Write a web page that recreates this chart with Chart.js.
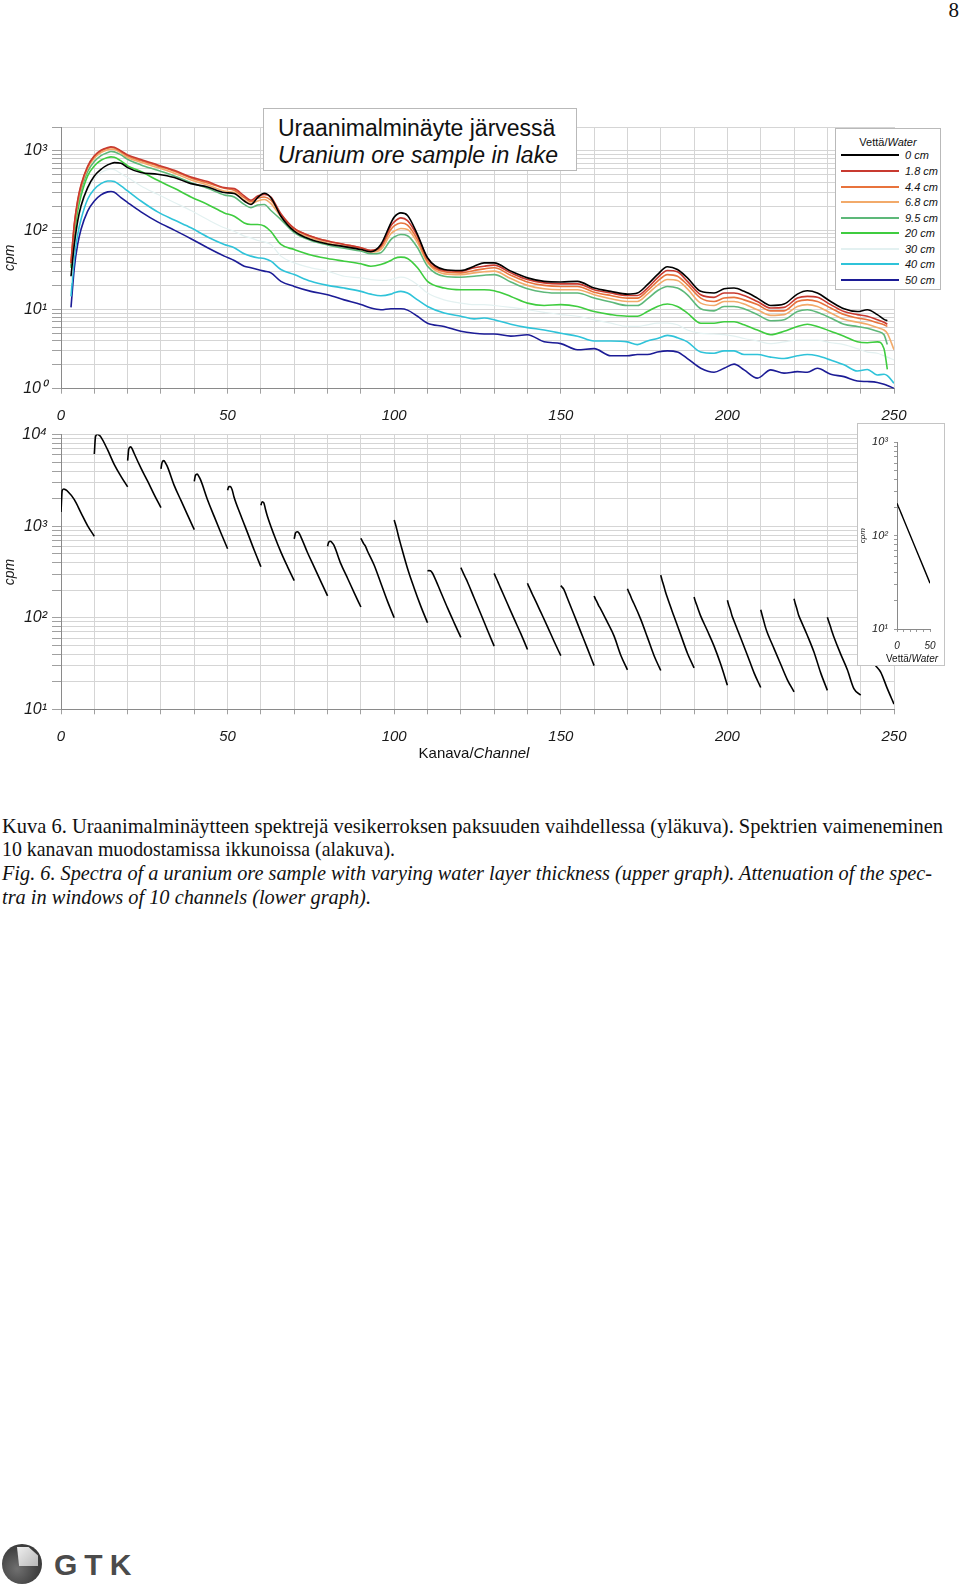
<!DOCTYPE html>
<html lang="fi">
<head>
<meta charset="utf-8">
<title>Uraanimalminäyte järvessä</title>
<script src="https://cdn.jsdelivr.net/npm/chart.js@4.4.1/dist/chart.umd.min.js"></script>
<style>
  html, body { margin:0; padding:0; background:#fff; }
  body { position:relative; width:960px; height:1586px; overflow:hidden; font-family:"Liberation Sans", Arial, sans-serif; color:#111; }
  canvas { position:absolute; display:block; }
  #upperChart { left:0; top:0; }
  #lowerChart { left:0; top:420px; }
  .pagenum { position:absolute; right:1px; top:0px; font-family:"Liberation Serif","Times New Roman",serif; font-size:21px; line-height:21px; color:#111; }
  .titlebox { position:absolute; left:263px; top:108px; width:314px; height:63px; box-sizing:border-box; border:1px solid #b9b9b9; background:#fff; }
  .titlebox div { position:absolute; left:14px; white-space:nowrap; font-size:23px; line-height:23px; color:#111; }
  .titlebox .t1 { top:8px; }
  .titlebox .t2 { top:35px; font-style:italic; }
  .legend { position:absolute; left:835px; top:128px; width:106px; height:162px; box-sizing:border-box; border:1px solid #b9b9b9; background:#fff; }
  .legend .lt { position:absolute; left:0; width:100%; top:7px; text-align:center; font-size:11px; line-height:13px; }
  .legend .row { position:absolute; left:0; width:100%; height:12px; }
  .legend .sw { position:absolute; left:5px; width:58px; height:2px; top:5px; }
  .legend .lab { position:absolute; left:69px; top:0; font-size:11px; line-height:12px; font-style:italic; white-space:nowrap; }
  .xtitle { position:absolute; top:744px; left:0; width:948px; text-align:center; font-size:15px; line-height:18px; }
  .inset { position:absolute; left:857px; top:423px; width:88px; height:243px; box-sizing:border-box; border:1px solid #c4c4c4; background:#fff; z-index:2; }
  .inset canvas { left:0; top:0; }
  .inset .it { position:absolute; left:54px; top:229px; transform:translateX(-50%); white-space:nowrap; font-size:10px; line-height:12px; }
  .cap { position:absolute; left:2px; white-space:nowrap; font-family:"Liberation Serif","Times New Roman",serif; font-size:22px; line-height:24px; transform-origin:0 0; color:#111; }
  .globe { position:absolute; left:2px; top:1544px; width:40px; height:40px; border-radius:50%; overflow:hidden;
           background: radial-gradient(circle at 38% 62%, #707070 0%, #444 55%, #2c2c2c 100%); }
  .globe .wedge { position:absolute; left:15px; top:3px; width:21px; height:19px;
           background: linear-gradient(135deg, #efefef 0%, #b8b8b8 100%);
           clip-path: polygon(0 0, 55% 0, 100% 45%, 100% 100%, 10% 100%); }
  .gtk { position:absolute; left:54px; top:1550px; font-weight:bold; font-size:30px; line-height:30px; letter-spacing:7px; color:#4b4b4b; }
</style>
</head>
<body>
<div class="pagenum">8</div>

<canvas id="upperChart" width="960" height="430"></canvas>
<canvas id="lowerChart" width="960" height="350"></canvas>

<div class="titlebox">
  <div class="t1">Uraanimalminäyte järvessä</div>
  <div class="t2">Uranium ore sample in lake</div>
</div>

<div class="legend" id="legend">
  <div class="lt">Vettä/<i>Water</i></div>
</div>

<div class="xtitle">Kanava/<i>Channel</i></div>

<div class="inset">
  <canvas id="insetChart" width="86" height="241"></canvas>
  <div class="it">Vettä/<i>Water</i></div>
</div>

<div class="cap" style="top:813.6px" data-w="941">Kuva 6. Uraanimalminäytteen spektrejä vesikerroksen paksuuden vaihdellessa (yläkuva). Spektrien vaimeneminen</div>
<div class="cap" style="top:837px" data-w="393">10 kanavan muodostamissa ikkunoissa (alakuva).</div>
<div class="cap" style="top:861.3px; font-style:italic" data-w="930">Fig. 6. Spectra of a uranium ore sample with varying water layer thickness (upper graph). Attenuation of the spec-</div>
<div class="cap" style="top:884.6px; font-style:italic" data-w="369">tra in windows of 10 channels (lower graph).</div>

<div class="globe"><div class="wedge"></div></div>
<div class="gtk">GTK</div>

<script>
// ---------------- DATA ----------------
// Upper graph: channel numbers at which the spectra were read
const channels = [3,4,5,6,8,10,12,14,15,16,18,20,24,29,34,39,44,49,52,55,57,59,61,63,66,70,75,80,85,90,93,96,99,100,102,104,107,110,115,120,124,127,130,135,140,145,150,155,160,165,170,173,176,179,182,185,188,192,196,199,202,205,209,213,217,221,224,227,231,235,239,242,245,247,248,250];

const seriesLabels = ['0 cm','1.8 cm','4.4 cm','6.8 cm','9.5 cm','20 cm','30 cm','40 cm','50 cm'];
const waterCm = [0, 1.8, 4.4, 6.8, 9.5, 20, 30, 40, 50];

const cpm0cm  = [26.2,66,130,202,344,483,586,665,691,711, 698,615,532,507,460,386,350,298,289,233, 211,257,292,257,150,97,76,67,62,57, 53.5,66,123,146,165,153,88,44.8,31.9,31.0, 35.1,38.7,38.7,30.4,25.0,22.6,22.2,22.6,18.6,16.9, 15.6,16.1,20.5,27.5,34.5,31.9,25.0,16.9,16.1,18.2, 18.6,16.9,13.9,11.2,11.7,15.6,17.2,16.1,12.6,10.2, 9.4,9.9,8.6,7.5,7.2,null];
const cpm18cm = [38.7,120,238,371,640,865,1020,1102,1124,1113, 1000,890,777,665,569,469,410,344,334,270, 238,270,283,262,161,105,84,73,66,60, 55.5,63,113,127,143,132,84,43.9,31.0,30.4, 33.5,35.1,36.2,28.9,23.8,21.6,21.0,21.0,17.7,16.1, 15.0,15.0,18.6,25.0,31.0,29.8,22.6,15.3,14.2,16.1, 16.1,15.0,12.6,10.4,10.6,13.9,14.6,14.2,11.5,9.4, 8.6,8.2,7.4,6.9,6.5,null];
const cpm44cm = [38.7,118,233,361,628,848,1000,1081,1102,1091, 981,865,754,646,553,455,393,337,318,257, 229,252,262,238,158,105,84,73,66,60, 55,61,102,113,123,116,76,40.6,29.8,28.9, 31.0,32.5,33.5,27.0,22.2,20.1,19.5,19.5,16.5,15.0, 13.9,13.9,17.2,22.6,27.5,26.2,20.5,13.9,12.6,13.9, 14.2,13.2,11.5,9.6,9.6,12.6,13.2,12.6,10.4,8.6, 7.8,7.4,6.8,6.4,6.1,null];
const cpm68cm = [37.6,113,223,344,604,806,953,1030,1050,1040, 943,824,719,615,522,430,371,312,298,238, 216,233,243,216,148,100,80,69,63,57, 53,57,90,97,105,102,69,38.7,28.1,27.5, 28.9,29.8,30.4,24.5,20.1,18.2,17.7,17.7,15.3,13.6, 12.6,12.6,15.6,20.1,23.8,23.2,18.2,12.0,11.2,12.6, 12.6,11.7,9.9,8.4,8.6,10.9,11.5,10.9,9.0,7.5, 6.9,6.5,5.9,5.5,5.0,3.1];
const cpm95cm = [35.1,102,202,312,548,733,873,953,981,971, 890,784,665,569,483,397,337,278,262,211, 192,207,211,177,136,93,74,65,59,54.5, 50.3,52,76,82,88,85,60,35.1,26.2,25.5, 26.2,27.0,27.5,22.2,18.2,16.5,16.1,16.1,13.9,12.4, 11.2,11.2,13.6,17.2,19.5,18.6,15.3,10.2,9.6,10.9, 10.9,10.2,8.6,7.2,7.4,9.4,9.9,9.2,7.8,6.5, 6.1,5.8,5.3,4.8,3.6,null];
const cpm20cm = [33.5,88,174,270,483,646,761,824,840,832, 747,646,548,425,337,262,211,165,150,123, 118,118,113,96,66,57,48.5,43.9,40.6,37.6, 35.1,36.9,41.4,43.9,45.7,43.9,33.5,22.6,18.6,17.7, 17.7,17.7,17.2,14.6,12.0,11.2,11.5,10.9,9.4,8.6, 8.2,8.2,9.4,10.9,11.7,10.9,9.0,6.7,6.7,7.0, 7.0,6.4,5.5,4.8,5.3,6.1,6.5,6.1,5.3,4.6, 3.9,3.8,3.9,3.2,1.75,null];
const cpm30cm = [21.6,60,118,183,328,446,532,580,586,580, 517,460,361,283,223,177,136,107,97,84, 80,74,71,66,47,38.7,33.5,30.4,26.2,25.0, 23.8,23.2,23.8,24.5,25.5,24.5,20.5,16.1,13.2,12.0, 11.5,11.5,11.2,10.6,9.9,9.2,8.6,8.2,7.4,6.7, 6.1,6.1,6.4,6.7,6.7,6.4,5.5,5.0,4.9,4.8, 4.6,4.3,4.0,3.7,3.9,4.1,4.1,4.1,3.8,3.6, 3.2,2.9,2.8,2.6,2.5,2.3];
const cpm40cm = [14.6,44.8,88,136,245,328,386,417,417,410, 361,312,233,170,134,107,82,66,60,50.3, 47,44.8,43.9,40.6,31.9,27.5,22.6,20.1,18.6,16.9, 15.6,14.9,15.6,16.2,16.9,16.1,13.2,10.9,9.0,8.2, 7.6,7.8,7.4,6.5,5.9,5.5,5.0,4.6,4.0,4.0, 3.9,3.6,4.0,4.3,4.7,4.4,3.9,2.9,2.8,3.0, 3.0,2.7,2.7,2.5,2.4,2.6,2.7,2.6,2.3,2.0, 1.67,1.75,1.49,1.52,1.46,1.17];
const cpm50cm = [10.6,33.5,66,102,174,233,278,304,307,301, 257,223,170,127,100,78,60,47,41.4,35.1, 33.5,31.9,30.4,28.9,22.6,19.5,16.9,15.3,13.2,11.5, 10.4,9.9,10.2,10.2,10.2,9.8,8.2,6.7,6.1,5.3, 5.0,4.9,4.9,4.6,4.8,3.9,3.7,3.1,3.2,2.6, 2.6,2.7,2.7,2.9,3.0,2.9,2.4,1.81,1.61,1.81, 2.04,1.73,1.36,1.73,1.57,1.64,1.61,1.81,1.52,1.42, 1.25,1.23,1.2,1.14,1.10,1.01];

// Lower graph: summed counts in 10-channel windows, one value per water thickness
const windowStarts = [0,10,20,30,40,50,60,70,80,90,100,110,120,130,140,150,160,170,180,190,200,210,220,230,240];
const windowWidth = 10;
const windowCpm = [
  [1430,2450,2550,2500,2420,1950,1400,1010,776],
  [6140,9500,10100,9900,9500,6800,4700,3500,2690],
  [5200,7000,7350,7000,6300,4300,3100,2200,1590],
  [4230,5000,5200,4900,4500,2770,1910,1320,916],
  [3090,3600,3700,3500,3200,1930,1270,843,566],
  [2470,2700,2700,2500,2100,1300,845,545,360],
  [1690,1850,1800,1530,1300,790,520,360,254],
  [726,840,870,850,780,513,357,248,173],
  [605,670,685,660,620,387,270,187,131],
  [738,696,641,605,543,374,238,151,100],
  [1165,1054,893,757,641,345,210,133,88],
  [325,327,325,312,287,190,128,88,61],
  [353,330,300,275,250,164,110,73,49],
  [305,284,258,235,212,142,97,67,45],
  [238,221,202,184,168,115,80,55,38.5],
  [224,217,205,187,166,107,70,46,30],
  [173,161,148,136,126,89,63,39,27],
  [207,192,175,158,144,96,61,38.5,26.5],
  [292,260,225,195,169,103,65,41,28.3],
  [168,152,135,120,106,72,49,31,18.3],
  [155,139,122,106,94,60,39,25,17.3],
  [122,109,93,80,70,46,31,21,15.5],
  [161,143,124,107,96,64,42,25,16.1],
  [101,92,81,71,62.5,40,27,16.7,14.3],
  [82,74,65,58,51,32,25.5,16.8,11.4]
];

// Inset: attenuation vs water thickness
const insetCpm = [222,206,187,170,153,101,68,46,31];

// Tick labels
const xTickLabels = [0,50,100,150,200,250];
const upperYTicks = [1,10,100,1000];
const lowerYTicks = [10,100,1000,10000];
const insetYTicks = [10,100,1000];
const insetXTickLabels = [0,50];

// ---------------- STYLE ----------------
const seriesColors = ['#000000','#c83a30','#e8733c','#f2aa6a','#5db879','#3fcc3f','#e3f1f1','#2fc3d9','#1c1c96'];
const F = "'Liberation Sans', Arial, sans-serif";
const GRID = '#d5d5d5';
const AXIS = '#8a8a8a';

const SUP = {'0':'\u2070','1':'\u00B9','2':'\u00B2','3':'\u00B3','4':'\u2074'};
function powerLabel(v) {
  const e = Math.round(Math.log10(v));
  return '10' + String(e).split('').map(c => SUP[c]).join('');
}
function logGrid(min, max) {
  const t = [];
  for (let e = Math.floor(Math.log10(min)); Math.pow(10, e) <= max * 1.0001; e++) {
    for (let m = 1; m <= 9; m++) {
      const v = m * Math.pow(10, e);
      if (v >= min * 0.9999 && v <= max * 1.0001) t.push({ value: v });
    }
  }
  return t;
}

function xAxis(height, pad) {
  return {
    type: 'linear', min: 0, max: 250,
    ticks: { stepSize: 10, maxTicksLimit: 100, autoSkip: false, maxRotation: 0, minRotation: 0,
      callback: v => xTickLabels.includes(v) ? String(v) : '',
      font: { family: F, size: 15, style: 'italic' }, color: '#1a1a1a', padding: pad },
    grid: { color: GRID, lineWidth: 1, tickLength: 5, tickColor: '#a0a0a0' },
    border: { color: AXIS, width: 1 },
    afterFit: s => { s.height = height; }
  };
}
function yAxis(min, max, labels) {
  return {
    type: 'logarithmic', min: min, max: max,
    afterBuildTicks: s => { s.ticks = logGrid(min, max); },
    ticks: { autoSkip: false, callback: v => labels.includes(v) ? powerLabel(v) : '',
      font: { family: F, size: 16, style: 'italic' }, color: '#1a1a1a', padding: 5 },
    grid: { color: GRID, lineWidth: 1, tickLength: 9, tickColor: '#a0a0a0' },
    border: { color: AXIS, width: 1 },
    title: { display: true, text: 'cpm', font: { family: F, size: 14, style: 'italic' }, color: '#1a1a1a', padding: { top: 2, bottom: 0 } },
    afterFit: s => { s.width = 61; }
  };
}
const common = {
  responsive: false, animation: false, devicePixelRatio: 1, events: [],
  plugins: { legend: { display: false }, tooltip: { enabled: false }, title: { display: false } }
};

// ---------------- UPPER CHART ----------------
const upperSeries = [cpm0cm, cpm18cm, cpm44cm, cpm68cm, cpm95cm, cpm20cm, cpm30cm, cpm40cm, cpm50cm];
const upperDatasets = upperSeries.map((vals, i) => ({
  label: seriesLabels[i],
  data: channels.map((c, j) => ({ x: c, y: vals[j] })),
  borderColor: seriesColors[i],
  borderWidth: i === 6 ? 1.2 : 1.6,
  pointRadius: 0,
  fill: false,
  cubicInterpolationMode: 'monotone',
  spanGaps: false
}));

new Chart(document.getElementById('upperChart'), {
  type: 'line',
  data: { datasets: upperDatasets },
  options: Object.assign({}, common, {
    layout: { padding: { top: 127, right: 66, bottom: 0, left: 0 } },
    scales: { x: xAxis(41.3, 13), y: yAxis(1, 2000, upperYTicks) }
  })
});

// legend built from the datasets
const legendEl = document.getElementById('legend');
upperDatasets.forEach((ds, i) => {
  const row = document.createElement('div');
  row.className = 'row';
  row.style.top = (20.4 + i * 15.58) + 'px';
  row.innerHTML = '<span class="sw" style="background:' + ds.borderColor + '"></span><span class="lab">' + ds.label + '</span>';
  legendEl.appendChild(row);
});

// ---------------- LOWER CHART ----------------
const maxWater = waterCm[waterCm.length - 1];
const lowerPoints = [];
windowStarts.forEach((w, k) => {
  waterCm.forEach((d, j) => lowerPoints.push({ x: w + d / maxWater * windowWidth, y: windowCpm[k][j] }));
  lowerPoints.push({ x: w + windowWidth, y: null });
});

new Chart(document.getElementById('lowerChart'), {
  type: 'line',
  data: { datasets: [{
    label: 'windows',
    data: lowerPoints,
    borderColor: '#000', borderWidth: 1.6, pointRadius: 0, fill: false,
    cubicInterpolationMode: 'monotone', spanGaps: false
  }] },
  options: Object.assign({}, common, {
    layout: { padding: { top: 11, right: 66, bottom: 0, left: 0 } },
    scales: { x: xAxis(60.7, 14), y: yAxis(10, 10000, lowerYTicks) }
  })
});

// ---------------- INSET ----------------
new Chart(document.getElementById('insetChart'), {
  type: 'line',
  data: { datasets: [{
    label: 'inset',
    data: waterCm.map((d, j) => ({ x: d, y: insetCpm[j] })),
    borderColor: '#000', borderWidth: 1.4, pointRadius: 0, fill: false
  }] },
  options: Object.assign({}, common, {
    layout: { padding: { top: 18.3, right: 14, bottom: 0, left: 0 } },
    scales: {
      x: { type: 'linear', min: 0, max: 50,
        ticks: { stepSize: 10, autoSkip: false, maxRotation: 0, callback: v => insetXTickLabels.includes(v) ? String(v) : '',
          font: { family: F, size: 10, style: 'italic' }, color: '#1a1a1a', padding: 8 },
        grid: { drawOnChartArea: false, tickLength: 3, color: '#9a9a9a' },
        border: { color: AXIS },
        afterFit: s => { s.height = 36; } },
      y: { type: 'logarithmic', min: 10, max: 1000,
        afterBuildTicks: s => { s.ticks = logGrid(10, 1000); },
        ticks: { autoSkip: false, callback: v => insetYTicks.includes(v) ? powerLabel(v) : '',
          font: { family: F, size: 11, style: 'italic' }, color: '#1a1a1a', padding: 6 },
        grid: { drawOnChartArea: false, tickLength: 3, color: '#9a9a9a' },
        border: { color: AXIS },
        title: { display: true, text: 'cpm', font: { family: F, size: 8, style: 'italic' }, color: '#1a1a1a', padding: { top: 0, bottom: 0 } },
        afterFit: s => { s.width = 39; } }
    }
  })
});

// ---------------- CAPTION FIT ----------------
document.querySelectorAll('.cap').forEach(el => {
  const target = parseFloat(el.dataset.w);
  const w = el.getBoundingClientRect().width;
  if (w > 0) el.style.transform = 'scaleX(' + (target / w) + ')';
});
</script>
</body>
</html>
